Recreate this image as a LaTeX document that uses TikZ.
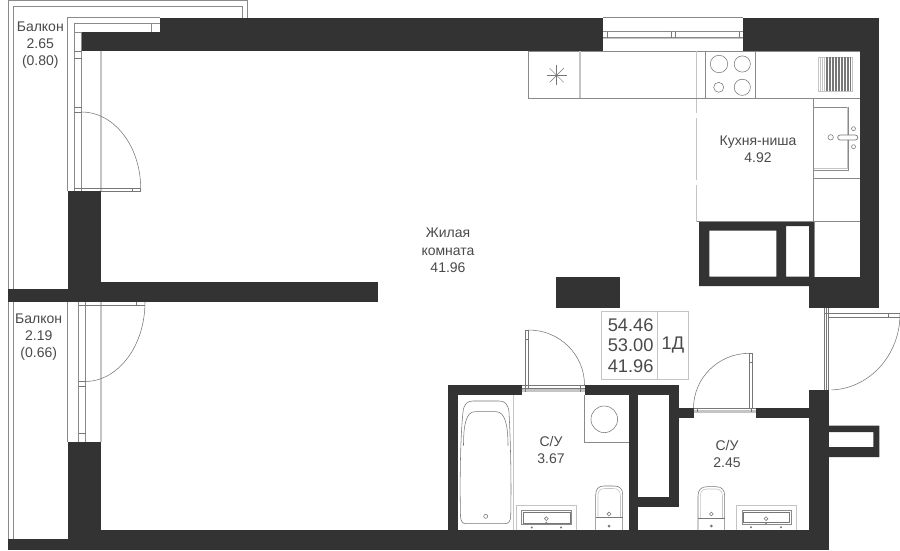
\documentclass[tikz,border=0pt]{standalone}
\usepackage{fontspec}
\setmainfont{Liberation Sans}
\definecolor{wallc}{HTML}{333333}
\definecolor{linec}{HTML}{8A8A8A}
\definecolor{darkl}{HTML}{777777}
\definecolor{lightl}{HTML}{C4C4C4}
\definecolor{textc}{HTML}{4A4A4A}
\tikzset{
  wall/.style={fill=wallc,draw=none},
  thin line/.style={draw=linec,line width=0.7pt},
  fine/.style={draw=darkl,line width=0.55pt},
  pale/.style={draw=lightl,line width=1.1pt},
  fixt/.style={draw=linec,line width=0.7pt,fill=white},
  lbl/.style={text=textc,align=center,inner sep=0pt,font=\fontsize{14}{17.3}\selectfont},
  bigl/.style={text=textc,inner sep=0pt,font=\fontsize{18.3}{20.5}\selectfont},
  dotf/.style={fill=darkl,draw=none}
}
\begin{document}
\begin{tikzpicture}[x=1pt,y=-1pt]
\useasboundingbox (0,0) rectangle (900,550);
\fill[white] (0,0) rectangle (900,550);

% balcony outlines
\draw[thin line] (8,289) -- (8,0.6) -- (247,0.6) -- (247,18);
\draw[thin line] (13.5,289) -- (13.5,6.5) -- (242.5,6.5) -- (242.5,18);
\draw[thin line] (8,302) -- (8,539);
\draw[thin line] (13.5,302) -- (13.5,539);
\draw[thin line] (67.5,191) -- (67.5,17.6) -- (160,17.6);
\draw[thin line] (67.5,302) -- (67.5,442);

% upper balcony window and door
\draw[pale] (101,51) -- (101,191);
\draw[thin line] (74,191) -- (74,23.5) -- (160,23.5);
\draw[thin line] (81.5,191) -- (81.5,32) -- (74,32);
\draw[thin line] (151.5,23.5) -- (151.5,32) -- (160,32);
\foreach \yy in {51,58.7,107,112}{\draw[fine] (74,\yy) -- (81.5,\yy);}
\draw[fine] (81.5,112) arc[start angle=270,end angle=360,x radius=59.2,y radius=76.5];
\draw[fine] (74,188) -- (140.7,188) -- (140.7,191) -- (74,191);
\draw[fine] (132.5,188) -- (132.5,191);

% lower balcony window and door
\draw[pale] (101,302) -- (101,442);
\draw[thin line] (78.5,302) -- (78.5,442);
\draw[thin line] (85.5,302) -- (85.5,442);
\foreach \yy in {381.5,386,433.3}{\draw[fine] (78.5,\yy) -- (85.5,\yy);}
\draw[fine] (145,302) arc[start angle=0,end angle=90,x radius=60,y radius=79.5];
\draw[fine] (78.5,305) -- (145,305);
\draw[fine] (136.5,302) -- (136.5,305);

% walls
\fill[wall] (160,17.6) rectangle (603,51);
\fill[wall] (82,32) rectangle (161,51);
\fill[wall] (743,17.6) rectangle (879,51);
\fill[wall] (860,50) rectangle (879,308);
\fill[wall] (809,277) rectangle (879,308);
\fill[wall,even odd rule] (699,221) rectangle (814,286)
   (709.3,230.7) rectangle (776.3,276.7)
   (786,226) rectangle (809,276.7);
\fill[wall] (814,276.7) rectangle (820,286);
\fill[wall] (67.5,191) rectangle (101,290);
\fill[wall] (8,289.3) rectangle (102,302.3);
\fill[wall] (101,282.3) rectangle (378,302.3);
\fill[wall] (67.5,442) rectangle (101,550);
\fill[wall] (8,538.7) rectangle (68,550);
\fill[wall] (100,530) rectangle (829,550);
\fill[wall] (809,390) rectangle (828.7,550);
\fill[wall,even odd rule] (828,425.7) rectangle (879.3,457) (828,432) rectangle (873.3,447);
\fill[wall] (556,277) rectangle (619.5,308);
% bathrooms
\fill[wall] (448,385) rectangle (521.5,395);
\fill[wall] (584.5,385) rectangle (678.7,395);
\fill[wall] (448,385) rectangle (457.8,531);
\fill[wall] (628.7,385) rectangle (638.3,531);
\fill[wall] (669.3,385) rectangle (678.7,507);
\fill[wall] (638,497) rectangle (678.7,506.7);
\fill[wall] (678,408.3) rectangle (693.5,418.3);
\fill[wall] (756.3,408.3) rectangle (810,418.3);

% top window
\draw[thin line] (603,17.6) -- (743,17.6);
\draw[thin line] (603,51) -- (743,51);
\draw[thin line] (603,31.7) -- (743,31.7);
\draw[thin line] (603,37.5) -- (743,37.5);
\draw[lightl,line width=0.6pt] (603,38.7) -- (743,38.7);
\foreach \xx in {607.3,671.3,675.7,739.3}{\draw[fine] (\xx,31.7) -- (\xx,37.5);}

% kitchen
\draw[lightl,line width=0.7pt,dash pattern=on 62pt off 5pt] (696.5,51) -- (696.5,221.5);
\draw[thin line] (528.3,51) -- (528.3,98.3) -- (860,98.3);
\draw[thin line] (528.3,51) -- (603,51) (743,51) -- (860,51);
\draw[pale] (580,51) -- (580,98);
\draw[thin line] (705.3,51) -- (705.3,98.3);
\draw[thin line] (755,51) -- (755,98.3);
\coordinate (starc) at (556.7,75.3);
\foreach \aa in {0,45,90,135}{
  \draw[fine,line width=0.45pt] ([shift={(\aa:10)}]starc) -- ([shift={(\aa+180:10)}]starc);
}
\fill[darkl] (starc) circle[radius=1.1];
\draw[fine] (719,64) circle[radius=8.7];
\draw[fine] (742.3,64) circle[radius=8.1];
\draw[fine] (718.7,87.3) circle[radius=5];
\draw[fine] (742.3,87.3) circle[radius=8.1];
\draw[lightl,line width=0.7pt] (818.3,57.3) rectangle (852.3,91);
\foreach \xx in {820.5,822.5,824.5}{\draw[lightl,line width=0.6pt] (\xx,57.3) -- (\xx,91);}
\foreach \xx in {826,827.5,...,851}{\draw[darkl,line width=0.55pt] (\xx,57.3) -- (\xx,91);}
% sink column
\draw[thin line] (813.5,98.3) -- (813.5,221.5);
\draw[thin line] (813.5,178.5) -- (860,178.5);
\draw[thin line] (696.5,221.5) -- (860,221.5);
\draw[thin line] (814,277) -- (814,221.5);
\draw[thin line] (814,107.3) -- (848.7,107.3) -- (848.7,170.7) -- (814,170.7);
\draw[lightl,line width=0.6pt] (847,107.3) -- (847,168.5) -- (814,168.5);
\draw[fine] (853.5,128.7) circle[radius=2];
\draw[fine] (853.5,146.7) circle[radius=2];
\draw[fine] (830.7,137.3) circle[radius=2.7];
\draw[fixt,draw=darkl,rounded corners=2.4pt] (837.7,135) rectangle (857.7,140);

% area table
\draw[thin line,draw=lightl] (601.7,311.7) rectangle (688,379);
\draw[lightl,line width=0.7pt] (657.7,311.7) -- (657.7,379);

% bathroom 1 door
\draw[fine] (525.3,388) -- (525.3,330) -- (528.7,330) -- (528.7,388);
\draw[fine] (525.3,339) -- (528.7,339);
\draw[fine] (528.7,330) arc[start angle=270,end angle=360,x radius=55.8,y radius=55];
\draw[lightl,line width=3pt] (521.5,390) -- (584.5,390);
\draw[fine] (521.5,385.5) -- (584.5,385.5);
\draw[fine] (521.5,388) -- (584.5,388);
\draw[fine] (580.3,385.5) -- (580.3,392);
\draw[fine] (525.3,385.5) -- (525.3,392);

% bathroom 1 fixtures
\draw[lightl,line width=0.8pt] (513.5,395) -- (513.5,530);
\draw[fine] (460.5,516) .. controls (459.5,470) and (461,430) .. (463,412) .. controls (464,403) and (468,401) .. (473,401) -- (499,401) .. controls (505,401) and (508,404) .. (509,412) .. controls (510.5,440) and (511.5,480) .. (510.7,516) .. controls (510.7,521) and (508.5,523.7) .. (505,523.7) -- (466,523.7) .. controls (462.5,523.7) and (460.5,521) .. (460.5,516);
\draw[fine] (463.5,445.7) .. controls (463.5,425) and (466,411.7) .. (475,411.7) -- (496,411.7) .. controls (505,411.7) and (508,425) .. (508,445.7);
\draw[fine] (485.7,516.3) circle[radius=2];
\draw[thin line] (584.5,395) -- (584.5,442.3) -- (629,442.3);
\draw[fine] (604.3,419.3) circle[radius=13.3];
\draw[thin line,draw=lightl] (516.3,530) -- (516.3,505.7) -- (576.3,505.7) -- (576.3,530);
\draw[fine,draw=linec] (521.7,510) rectangle (571.7,524);
\draw[fine] (523.3,512) rectangle (570,523);
\draw[fine] (546.3,518.7) circle[radius=1.9];
\foreach \xx/\yy in {531.7/527.5,561/527.5,546.3/523}{\fill[dotf] (\xx,\yy) circle[radius=1.1];}
\draw[fine] (595.7,530) -- (595.7,495) .. controls (595.7,489) and (598.5,486) .. (604,486) -- (614,486) .. controls (620,486) and (622.7,489) .. (622.7,495) -- (622.7,530);
\draw[fine,draw=lightl] (598,517) -- (598,496) .. controls (598,491) and (600,488.5) .. (605,488.5) -- (613,488.5) .. controls (618,488.5) and (620.5,491) .. (620.5,496) -- (620.5,517);
\draw[fine] (595.7,517.5) -- (622.7,517.5);
\draw[fine] (609,514) circle[radius=1.9];
\fill[dotf] (609,526) circle[radius=1.5];

% bathroom 2 door
\draw[fine] (749.3,409) -- (749.3,353.3) -- (752,353.3) -- (752,409);
\draw[fine] (749.3,362.7) -- (752,362.7);
\draw[fine] (749.3,353.3) arc[start angle=270,end angle=180,x radius=55.8,y radius=55];
\draw[lightl,line width=3pt] (693.5,411) -- (756.3,411);
\draw[fine] (693.5,408.7) -- (756.3,408.7);
\draw[fine] (697,408.7) -- (697,412);
\draw[fine] (751,408.7) -- (751,412);

% bathroom 2 fixtures
\draw[fine] (698,530) -- (698,496) .. controls (698,490) and (701,486.7) .. (707,486.7) -- (716,486.7) .. controls (722,486.7) and (724.7,490) .. (724.7,496) -- (724.7,530);
\draw[fine,draw=lightl] (700.3,518) -- (700.3,497) .. controls (700.3,492) and (702,489) .. (707,489) -- (716,489) .. controls (720.5,489) and (722.5,492) .. (722.5,497) -- (722.5,518);
\draw[fine] (698,518.3) -- (724.7,518.3);
\draw[fine] (711.3,514) circle[radius=1.9];
\fill[dotf] (711.3,526) circle[radius=1.5];
\draw[thin line,draw=lightl] (736.3,530) -- (736.3,505.3) -- (796,505.3) -- (796,530);
\draw[fine,draw=linec] (742,510) rectangle (791,524);
\draw[fine] (743.5,512) rectangle (789.5,522.5);
\draw[fine] (766,518.7) circle[radius=1.9];
\foreach \xx/\yy in {751/527.3,781/527.3,766/523}{\fill[dotf] (\xx,\yy) circle[radius=1.1];}

% entrance door
\draw[fine] (824.2,308) -- (824.2,390);
\draw[fine] (826.2,308) -- (826.2,390);
\draw[fine] (828.5,308) -- (828.5,390);
\draw[fine] (824.2,312.8) -- (900,312.8);
\draw[fine] (828.5,317.3) -- (900,317.3);
\draw[fine] (888,312.8) -- (888,317.3);
\draw[fine] (900,314) arc[start angle=0,end angle=88,x radius=71,y radius=76];

% labels
\node[lbl] (balk1) at (40.3,45) {Балкон\\2.65\\(0.80)};
\node[lbl] (balk2) at (38.7,337) {Балкон\\2.19\\(0.66)};
\node[lbl] (room) at (448,250.3) {Жилая\\комната\\41.96};
\node[lbl] (kitch) at (758,149.5) {Кухня-ниша\\4.92};
\node[lbl] (wc1) at (551,450) {С/У\\3.67};
\node[lbl] (wc2) at (727,454) {С/У\\2.45};
\node[bigl,anchor=east] (tot) at (653.8,325) {54.46};
\node[bigl,anchor=east] (liv) at (653.8,345.5) {53.00};
\node[bigl,anchor=east] (liv2) at (653.8,366) {41.96};
\node[bigl] (typ) at (673,345.5) {1Д};
\end{tikzpicture}
\end{document}
